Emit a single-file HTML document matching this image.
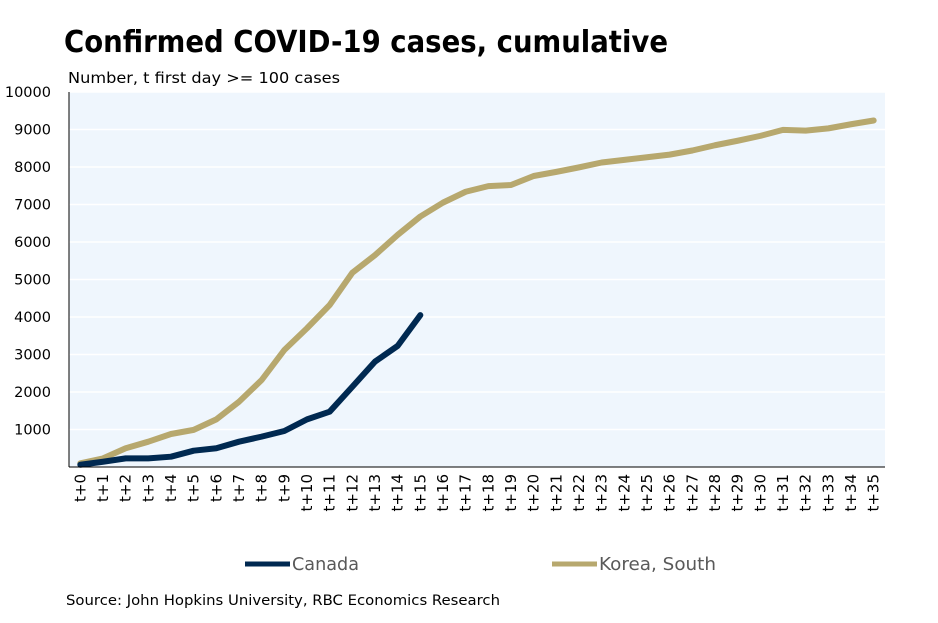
<!DOCTYPE html>
<html><head><meta charset="utf-8"><style>
body{margin:0;background:#fff;font-family:"DejaVu Sans",sans-serif}
svg text{font-family:"DejaVu Sans",sans-serif}
</style></head><body>
<svg id="c" width="938" height="619" viewBox="0 0 938 619">
<text x="64" y="52" font-size="30" font-weight="bold" fill="#000" textLength="604" lengthAdjust="spacingAndGlyphs">Confirmed COVID-19 cases, cumulative</text>
<text x="68" y="83" font-size="15" fill="#000" textLength="272" lengthAdjust="spacingAndGlyphs">Number, t first day &gt;= 100 cases</text>
<rect x="69" y="92" width="816" height="375" fill="#eff6fd"/>
<g id="grid"></g><g id="yt"></g><g id="xt"></g><g id="series"></g>
<line x1="69" y1="92" x2="69" y2="467" stroke="#000"/>
<line x1="69" y1="467" x2="885" y2="467" stroke="#000"/>
<g><line x1="245" y1="564" x2="290" y2="564" stroke="#002951" stroke-width="5"/><text x="292" y="570" font-size="18" fill="#595959" textLength="67" lengthAdjust="spacingAndGlyphs">Canada</text></g>
<g><line x1="552" y1="564" x2="597" y2="564" stroke="#b7a86e" stroke-width="5"/><text x="599" y="570" font-size="18" fill="#595959" textLength="117" lengthAdjust="spacingAndGlyphs">Korea, South</text></g>
<text x="66" y="605" font-size="14" fill="#000" textLength="434" lengthAdjust="spacingAndGlyphs">Source: John Hopkins University, RBC Economics Research</text>
</svg>
<script>
const categories=[];for(let i=0;i<=35;i++)categories.push('t+'+i);
const canada=[60,140,230,230,275,435,500,675,810,960,1270,1475,2140,2810,3230,4050];
const korea=[100,230,500,675,880,990,1270,1740,2320,3120,3700,4320,5180,5650,6190,6680,7050,7340,7490,7520,7760,7870,7990,8120,8190,8260,8330,8440,8580,8700,8830,8990,8970,9030,9140,9240];
const yTicks=[1000,2000,3000,4000,5000,6000,7000,8000,9000,10000];
const NS='http://www.w3.org/2000/svg';
const x0=69,x1=885,yTop=92,yBot=467,yMax=10000;
const step=(x1-x0)/categories.length;
const X=i=>x0+step*(i+0.5);
const Y=v=>yBot-(v/yMax)*(yBot-yTop);
function mk(t,a,p){const e=document.createElementNS(NS,t);for(const k in a)e.setAttribute(k,a[k]);p.appendChild(e);return e;}
const grid=document.getElementById('grid'),yt=document.getElementById('yt'),xt=document.getElementById('xt'),ser=document.getElementById('series');
yTicks.forEach(v=>{
 const l=mk('line',{x1:x0,x2:x1,y1:Y(v),y2:Y(v),stroke:'#fff','stroke-width':1.5},grid);
 
 
 const t=mk('text',{x:51,y:Y(v)+5,'font-size':14.5,'text-anchor':'end',fill:'#000'},yt);
 t.textContent=v;
 
 
});
categories.forEach((c,i)=>{
 const t=mk('text',{x:0,y:0,'font-size':15,'text-anchor':'end',fill:'#000',transform:`translate(${X(i)+5},474) rotate(-90)`},xt);
 t.textContent=c;
 
 
});
function line(d,col,name){
 const p=mk('polyline',{points:d.map((v,i)=>X(i)+','+Y(v)).join(' '),fill:'none',stroke:col,'stroke-width':6,'stroke-linejoin':'round','stroke-linecap':'round'},ser);
 
 
}
line(korea,'#b7a86e','korea-line');
line(canada,'#002951','canada-line');
</script>
</body></html>
